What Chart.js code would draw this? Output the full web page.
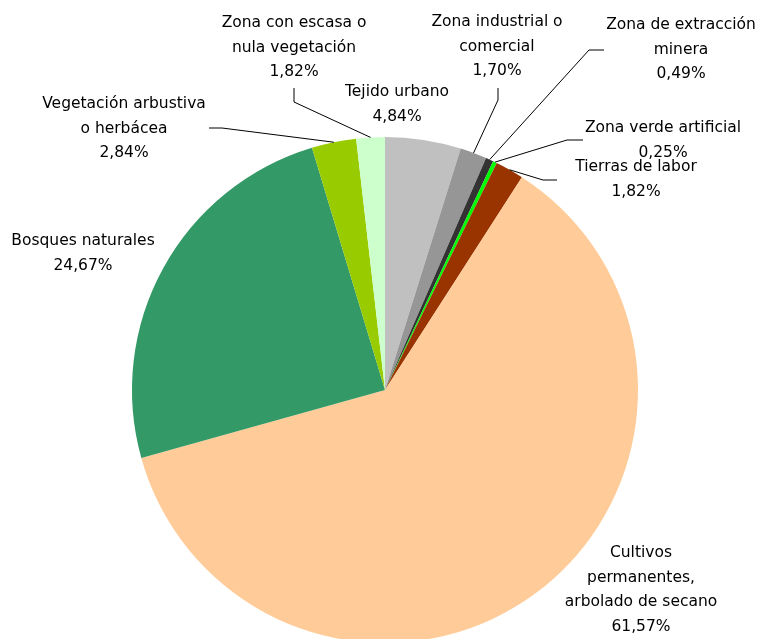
<!DOCTYPE html>
<html>
<head>
<meta charset="utf-8">
<script src="https://cdn.jsdelivr.net/npm/chart.js@4.4.0/dist/chart.umd.min.js"></script>
<style>
    html, body { margin: 0; padding: 0; background: #fff; overflow: hidden; }
    #wrap { position: relative; width: 757px; height: 680px; }
</style>
</head>
<body>
<div id="wrap"><canvas id="pieChart"></canvas></div>
<script>
// Data (clockwise from the top)
const categories = [
    ['Tejido urbano'],
    ['Zona industrial o', 'comercial'],
    ['Zona de extracción', 'minera'],
    ['Zona verde artificial'],
    ['Tierras de labor'],
    ['Cultivos', 'permanentes,', 'arbolado de secano'],
    ['Bosques naturales'],
    ['Vegetación arbustiva', 'o herbácea'],
    ['Zona con escasa o', 'nula vegetación']
];
const shares = [4.84, 1.70, 0.49, 0.25, 1.82, 61.57, 24.67, 2.84, 1.82];
const sliceColors = ['#c0c0c0', '#969696', '#333333', '#00ff00', '#993300',
                     '#ffcc99', '#339966', '#99cc00', '#ccffcc'];

// Where each label sits (text centre x, first line y) and its leader elbow
const labelSpots = [
    { x: 397, y: 92,  elbow: null },
    { x: 497, y: 22,  elbow: [[498, 88], [498, 100]] },
    { x: 681, y: 25,  elbow: [[604, 50], [589, 50]] },
    { x: 663, y: 128, elbow: [[583, 140], [567, 140]] },
    { x: 636, y: 167, elbow: [[557, 180], [543, 180]] },
    { x: 641, y: 553, elbow: null },
    { x: 83,  y: 241, elbow: null },
    { x: 124, y: 104, elbow: [[209, 128], [222, 128]] },
    { x: 294, y: 23,  elbow: [[294, 88], [294, 102]] }
];
const lineHeight = 24.5;

function formatShare(v) {
    return v.toFixed(2).replace('.', ',') + '%';
}

// Plugin drawing the labels and leader lines
const pieLabels = {
    id: 'pieLabels',
    afterDatasetsDraw(chart) {
        const ctx = chart.ctx;
        const arcs = chart.getDatasetMeta(0).data;
        ctx.save();
        ctx.strokeStyle = '#000';
        ctx.lineWidth = 1;
        arcs.forEach(function (arc, i) {
            const spot = labelSpots[i];
            if (!spot.elbow) return;
            const p = arc.getProps(['x', 'y', 'startAngle', 'endAngle', 'outerRadius'], true);
            const mid = (p.startAngle + p.endAngle) / 2;
            const ex = p.x + Math.cos(mid) * p.outerRadius;
            const ey = p.y + Math.sin(mid) * p.outerRadius;
            ctx.beginPath();
            ctx.moveTo(spot.elbow[0][0], spot.elbow[0][1]);
            ctx.lineTo(spot.elbow[1][0], spot.elbow[1][1]);
            ctx.lineTo(ex, ey);
            ctx.stroke();
        });
        ctx.fillStyle = '#000';
        ctx.font = '15.5px "DejaVu Sans"';
        ctx.textAlign = 'center';
        ctx.textBaseline = 'middle';
        categories.forEach(function (lines, i) {
            const spot = labelSpots[i];
            const all = lines.concat([formatShare(shares[i])]);
            all.forEach(function (t, k) {
                ctx.fillText(t, spot.x, spot.y + k * lineHeight);
            });
        });
        ctx.restore();
    }
};

var ctx_pie = document.getElementById('pieChart').getContext('2d');
var pieChart = new Chart(ctx_pie, {
    type: 'pie',
    data: {
        labels: categories.map(function (c) { return c.join(' '); }),
        datasets: [{
            data: shares,
            backgroundColor: sliceColors,
            borderWidth: 0
        }]
    },
    options: {
        responsive: true,
        maintainAspectRatio: false,
        animation: false,
        layout: { padding: { left: 132, right: 119, top: 137, bottom: 37 } },
        plugins: {
            legend: { display: false },
            tooltip: { enabled: false }
        }
    },
    plugins: [pieLabels]
});
</script>
</body>
</html>
